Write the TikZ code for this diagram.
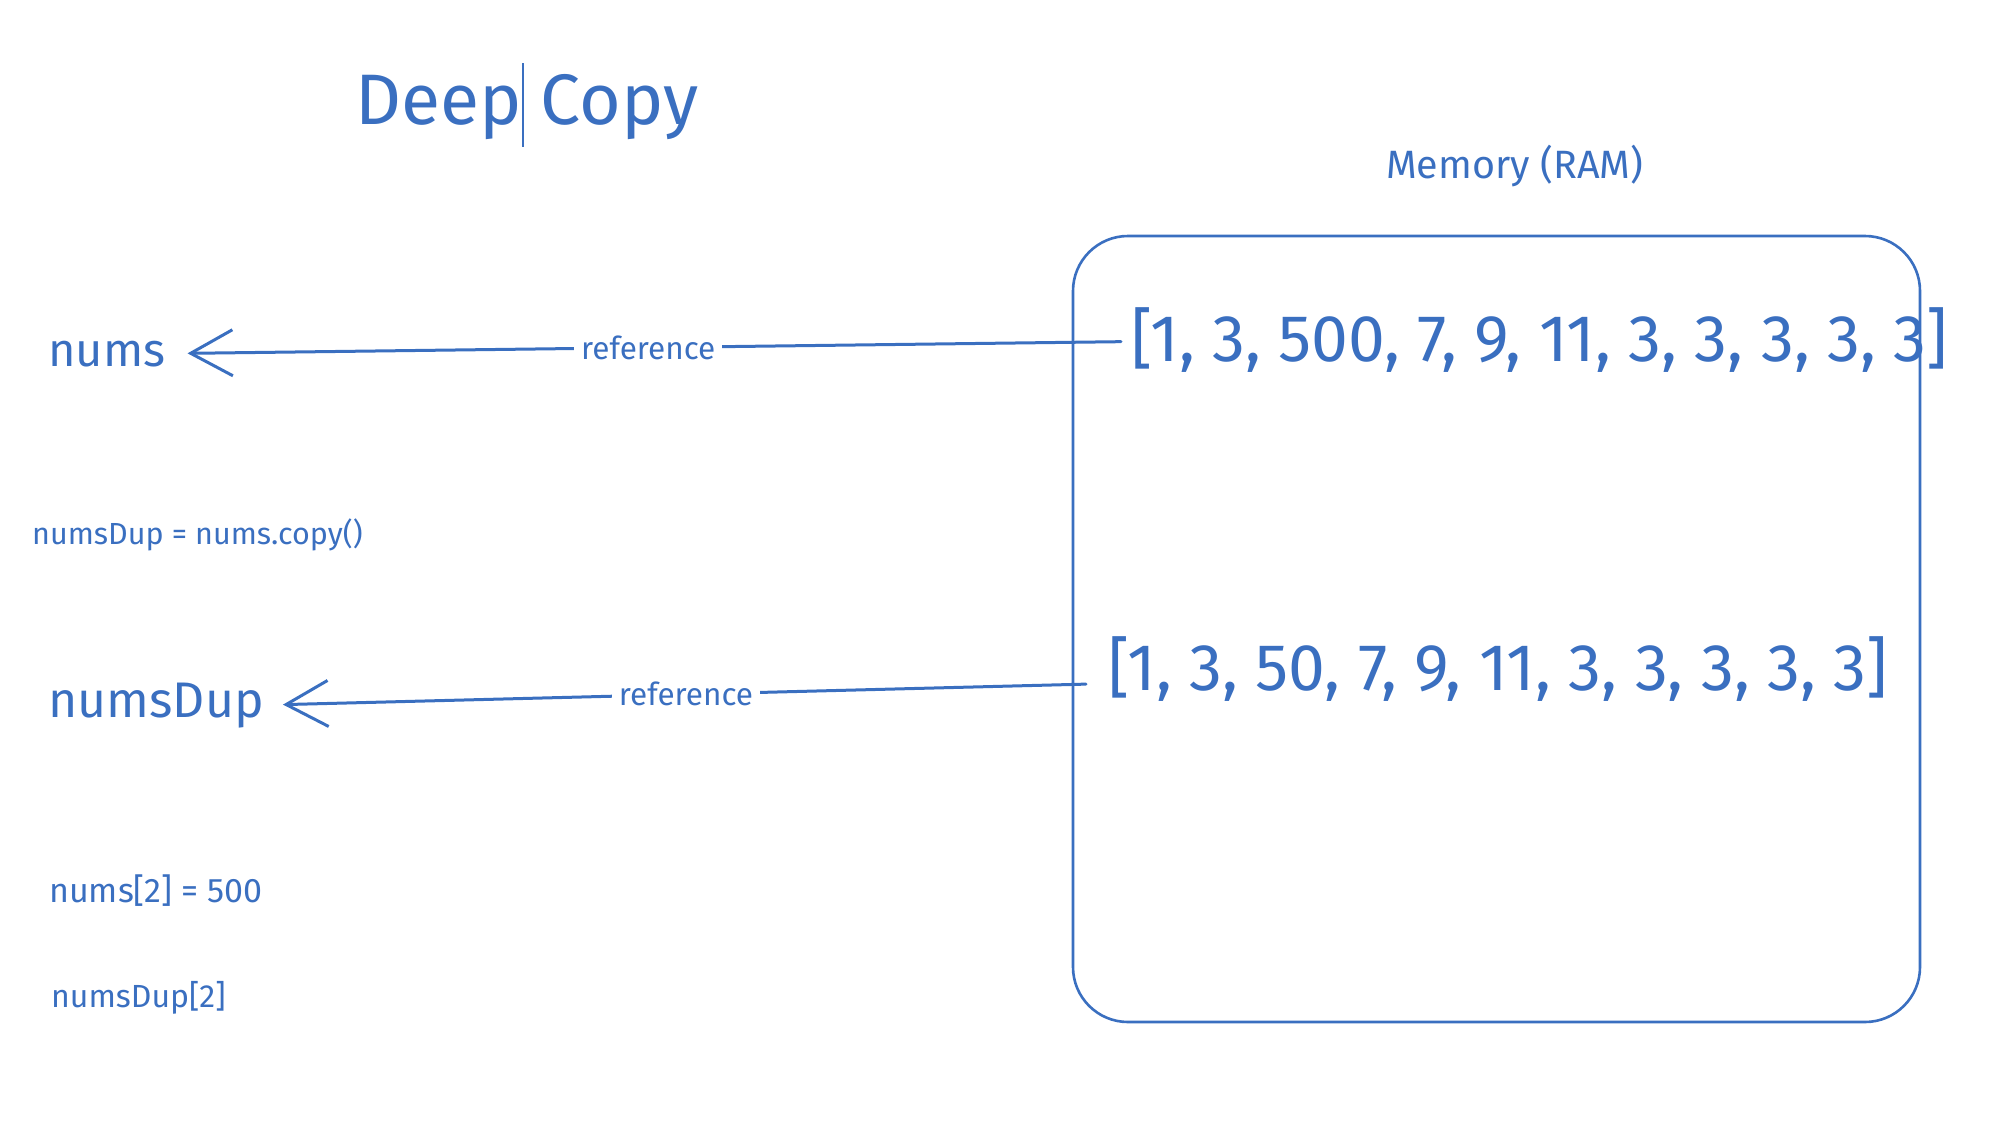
\documentclass[tikz,border=0pt]{standalone}
\usepackage{fontspec}
\setmainfont{Fira Sans}
\usetikzlibrary{arrows.meta}
\definecolor{ink}{HTML}{3A6FC0}
\begin{document}
\begin{tikzpicture}[x=1pt,y=-1pt,
  txt/.style={inner sep=0pt, text=ink, font=#1},
  conn/.style={draw=ink, line width=3pt, line cap=round,
    -{Straight Barb[length=42pt,width=46pt,line width=3pt]}},
  lbl/.style={fill=white, inner sep=7pt, text=ink, font=\fontsize{31.5}{36}\selectfont}]
\useasboundingbox (0,0) rectangle (1998,1122);
% title
\node[txt=\fontsize{71.5}{84}\selectfont, anchor=base west] (title) at (355,124) {Deep Copy};
\draw[ink, line width=1.8pt] (523,63) -- (523,147);
% memory box
\node[txt=\fontsize{39.5}{46}\selectfont, anchor=base west] (memlbl) at (1386,178) {Memory (RAM)};
\draw[ink, line width=2.6pt, rounded corners=55pt] (1073,236) rectangle (1920,1022);
% arrays
\node[txt=\fontsize{66}{76}\selectfont, anchor=base west] (arr1) at (1131,361) {[1, 3, 500, 7, 9, 11, 3, 3, 3, 3, 3]};
\node[txt=\fontsize{66}{76}\selectfont, anchor=base west] (arr2) at (1108,690) {[1, 3, 50, 7, 9, 11, 3, 3, 3, 3, 3]};
% variables
\node[txt=\fontsize{47}{54}\selectfont, anchor=base west] (nums) at (48,366) {nums};
\node[txt=\fontsize{50}{58}\selectfont, anchor=base west] (numsDup) at (48,717) {numsDup};
\node[txt=\fontsize{30.5}{36}\selectfont, anchor=base west] (copy) at (32,544) {numsDup = nums.copy()};
\node[txt=\fontsize{34}{40}\selectfont, anchor=base west] (assign) at (49,902) {nums[2] = 500};
\node[txt=\fontsize{32}{38}\selectfont, anchor=base west] (access) at (51,1007) {numsDup[2]};
% connectors
\draw[conn, shorten <=10pt, shorten >=22pt] ([yshift=-2pt]arr1.west) -- node[lbl] (ref1) {reference} (nums.east);
\draw[conn, shorten <=22pt, shorten >=19pt] ([yshift=-15pt]arr2.west) -- node[lbl] (ref2) {reference} (numsDup.east);
\end{tikzpicture}
\end{document}
